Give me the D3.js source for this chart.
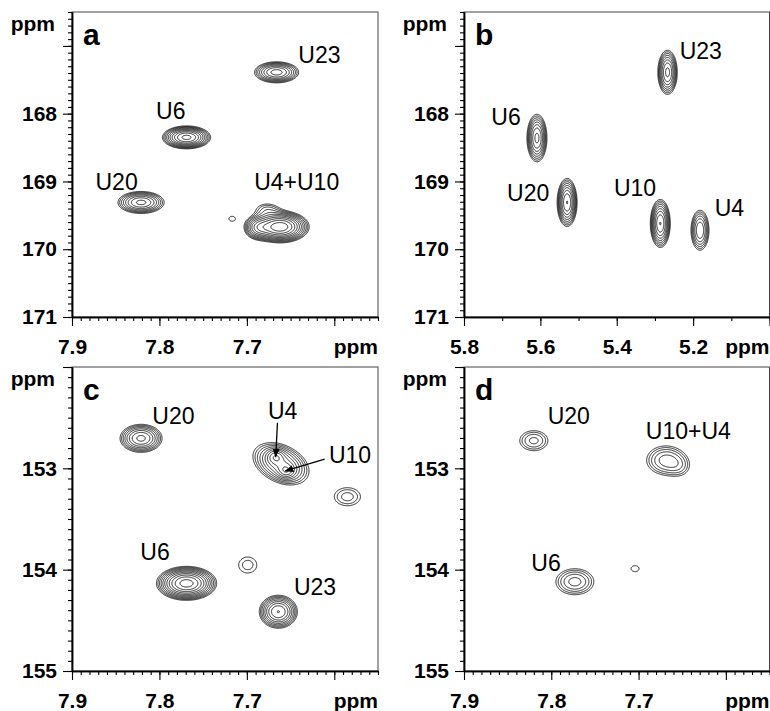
<!DOCTYPE html>
<html>
<head>
<meta charset="utf-8">
<script src="https://cdn.jsdelivr.net/npm/d3@7"></script>
<style>
  body { margin: 0; background: #fff; }
  svg { display: block; }
</style>
</head>
<body>
<div id="chart"></div>
<script>
// 2D NMR spectra (four panels) drawn as contour plots with D3

// ---- axis domains and ticks ----
const xDomainH6 = [7.9, 7.55];
const xDomainH1 = [5.8, 5.0];
const yDomainC2 = [166.5, 171];
const yDomainC4 = [152, 155];

const xTicksH6 = [7.9, 7.8, 7.7, 7.6];
const xTickLabelsH6 = ['7.9', '7.8', '7.7', ''];
const xTicksH1 = [5.8, 5.6, 5.4, 5.2, 5.0];
const xTickLabelsH1 = ['5.8', '5.6', '5.4', '5.2', ''];
const yTicksC2 = [167, 168, 169, 170, 171];
const yTickLabelsC2 = ['', '168', '169', '170', '171'];
const yTicksC4 = [152, 153, 154, 155];
const yTickLabelsC4 = ['', '153', '154', '155'];

// ---- peaks: position (ppm), widths (ppm), height in units of lowest contour, optional tilt ----
const peaksA = [
  { x: 7.666, y: 167.39, sx: 0.0138, sy: 0.085, h: 5.3 },   // U23
  { x: 7.769, y: 168.35, sx: 0.0135, sy: 0.083, h: 8 },     // U6
  { x: 7.821, y: 169.31, sx: 0.0146, sy: 0.090, h: 5.1 },   // U20
  { x: 7.662, y: 169.67, sx: 0.0152, sy: 0.108, h: 11 },    // U4+U10
  { x: 7.688, y: 169.68, sx: 0.0085, sy: 0.095, h: 3.5 },   // shoulder
  { x: 7.677, y: 169.41, sx: 0.011, sy: 0.080, h: 1.5 },    // bump
  { x: 7.717, y: 169.55, sx: 0.0065, sy: 0.064, h: 1.15 }   // small
];
const peaksB = [
  { x: 5.267, y: 167.39, sx: 0.0141, sy: 0.180, h: 5.1 },   // U23
  { x: 5.609, y: 168.36, sx: 0.0145, sy: 0.194, h: 5.1 },   // U6
  { x: 5.530, y: 169.31, sx: 0.0138, sy: 0.187, h: 6 },     // U20
  { x: 5.286, y: 169.62, sx: 0.0138, sy: 0.187, h: 6 },     // U10
  { x: 5.182, y: 169.72, sx: 0.0144, sy: 0.180, h: 3.8 }    // U4
];
const peaksC = [
  { x: 7.821, y: 152.704, sx: 0.0133, sy: 0.0766, h: 5.1 }, // U20
  { x: 7.661, y: 152.955, sx: 0.0185, sy: 0.120, h: 4.5, rho: -0.35 }, // U4/U10 envelope
  { x: 7.667, y: 152.885, sx: 0.006, sy: 0.045, h: 2.5 },   // U4
  { x: 7.655, y: 153.026, sx: 0.006, sy: 0.045, h: 2.5 },   // U10
  { x: 7.585, y: 153.28, sx: 0.0141, sy: 0.084, h: 1.75 },
  { x: 7.769, y: 154.135, sx: 0.0159, sy: 0.0775, h: 10.4 }, // U6
  { x: 7.699, y: 153.954, sx: 0.0126, sy: 0.096, h: 1.4 },
  { x: 7.664, y: 154.415, sx: 0.0115, sy: 0.086, h: 6 }     // U23
];
const peaksD = [
  { x: 7.820, y: 152.727, sx: 0.0132, sy: 0.081, h: 2.1 },  // U20
  { x: 7.669, y: 152.92, sx: 0.0154, sy: 0.100, h: 2.7 },   // U10+U4
  { x: 7.652, y: 152.99, sx: 0.010, sy: 0.080, h: 0.9 },
  { x: 7.773, y: 154.119, sx: 0.0154, sy: 0.091, h: 2.7 },  // U6
  { x: 7.704, y: 153.99, sx: 0.0105, sy: 0.067, h: 1.1 }
];

// ---- peak labels [text, x ppm, y ppm] and arrows [x1, y1, x2, y2] ----
const labelsA = [['U23', 7.617, 167.13], ['U6', 7.787, 167.96], ['U20', 7.849, 169.0], ['U4+U10', 7.643, 169.0]];
const labelsB = [['U23', 5.180, 167.07], ['U6', 5.690, 168.04], ['U20', 5.632, 169.16], ['U10', 5.352, 169.09], ['U4', 5.105, 169.39]];
const labelsC = [['U20', 7.784, 152.48], ['U4', 7.659, 152.43], ['U10', 7.582, 152.87], ['U6', 7.805, 153.82], ['U23', 7.622, 154.17]];
const labelsD = [['U20', 7.780, 152.48], ['U10+U4', 7.643, 152.63], ['U6', 7.806, 153.93]];
const arrowsC = [[7.665, 152.55, 7.667, 152.885], [7.611, 152.91, 7.656, 153.026]];

// contour levels: geometric series
const contourBase = 1;
const contourFactor = 1.25;
const contourCount = 16;
const levels = d3.range(contourCount).map(k => contourBase * Math.pow(contourFactor, k));

const fontFamily = '"Liberation Sans", Arial, Helvetica, sans-serif';
const width = 770, height = 711;

const svg = d3.select('#chart').append('svg')
  .attr('width', width)
  .attr('height', height)
  .attr('font-family', fontFamily);

svg.append('defs').append('marker')
  .attr('id', 'arrow')
  .attr('markerUnits', 'userSpaceOnUse')
  .attr('markerWidth', 9).attr('markerHeight', 7)
  .attr('refX', 8).attr('refY', 3.5)
  .attr('orient', 'auto')
  .append('path')
  .attr('d', 'M0,0 L9,3.5 L0,7 Z')
  .attr('fill', '#000');

const panels = [
  { id: 'a', left: 72, right: 378, top: 12, bottom: 317, xDomain: xDomainH6, yDomain: yDomainC2,
    xTicks: xTicksH6, xLabels: xTickLabelsH6, xMinor: 0.01, yTicks: yTicksC2, yLabels: yTickLabelsC2,
    peaks: peaksA, labels: labelsA, arrows: [] },
  { id: 'b', left: 464, right: 769.5, top: 12, bottom: 317, xDomain: xDomainH1, yDomain: yDomainC2,
    xTicks: xTicksH1, xLabels: xTickLabelsH1, xMinor: 0.1, yTicks: yTicksC2, yLabels: yTickLabelsC2,
    peaks: peaksB, labels: labelsB, arrows: [] },
  { id: 'c', left: 72, right: 378, top: 367, bottom: 671, xDomain: xDomainH6, yDomain: yDomainC4,
    xTicks: xTicksH6, xLabels: xTickLabelsH6, xMinor: 0.01, yTicks: yTicksC4, yLabels: yTickLabelsC4,
    peaks: peaksC, labels: labelsC, arrows: arrowsC },
  { id: 'd', left: 464, right: 769.5, top: 367, bottom: 671, xDomain: xDomainH6, yDomain: yDomainC4,
    xTicks: xTicksH6, xLabels: xTickLabelsH6, xMinor: 0.01, yTicks: yTicksC4, yLabels: yTickLabelsC4,
    peaks: peaksD, labels: labelsD, arrows: [] }
];

// minor tick values inside a domain
function minorTicks(domain, step) {
  const lo = Math.min(domain[0], domain[1]), hi = Math.max(domain[0], domain[1]);
  return d3.range(Math.ceil(lo / step - 1e-6), Math.floor(hi / step + 1e-6) + 1).map(k => +(k * step).toFixed(4));
}

// sum of (possibly tilted) gaussian peaks at a point (ppm)
function intensity(peaks, px, py) {
  let s = 0;
  for (const p of peaks) {
    const u = (px - p.x) / p.sx, v = (py - p.y) / p.sy;
    const r = p.rho || 0;
    s += p.h * Math.exp(-0.5 * (u * u - 2 * r * u * v + v * v) / (1 - r * r));
  }
  return s;
}

function drawPanel(p) {
  const x = d3.scaleLinear().domain(p.xDomain).range([p.left, p.right]);
  const y = d3.scaleLinear().domain(p.yDomain).range([p.top, p.bottom]);
  const g = svg.append('g');

  // frame
  g.append('rect')
    .attr('x', p.left).attr('y', p.top)
    .attr('width', p.right - p.left).attr('height', p.bottom - p.top)
    .attr('fill', 'none').attr('stroke', '#444').attr('stroke-width', 1);

  // contour grid
  const step = 0.5;
  const nx = Math.ceil((p.right - p.left) / step);
  const ny = Math.ceil((p.bottom - p.top) / step);
  const values = new Float64Array(nx * ny);
  for (let j = 0; j < ny; j++) {
    const py = y.invert(p.top + (j + 0.5) * step);
    for (let i = 0; i < nx; i++) {
      const px = x.invert(p.left + (i + 0.5) * step);
      values[j * nx + i] = intensity(p.peaks, px, py);
    }
  }
  const contours = d3.contours().size([nx, ny]).thresholds(levels)(values);
  const path = d3.geoPath(d3.geoIdentity().scale(step).translate([p.left, p.top]));

  g.append('clipPath').attr('id', 'clip-' + p.id)
    .append('rect')
    .attr('x', p.left).attr('y', p.top)
    .attr('width', p.right - p.left).attr('height', p.bottom - p.top);

  g.append('g')
    .attr('clip-path', `url(#clip-${p.id})`)
    .selectAll('path')
    .data(contours.filter(c => c.coordinates.length))
    .join('path')
    .attr('d', path)
    .attr('fill', 'none')
    .attr('stroke', '#000')
    .attr('stroke-width', 0.85)
    .attr('stroke-linejoin', 'round');

  // axes: minor ticks, then major ticks with labels
  const xMinorAxis = d3.axisBottom(x).tickValues(minorTicks(p.xDomain, p.xMinor)).tickSize(4).tickFormat('').tickSizeOuter(0);
  const xMajorAxis = d3.axisBottom(x).tickValues(p.xTicks).tickSize(9).tickPadding(13).tickSizeOuter(0)
    .tickFormat((d, i) => p.xLabels[i]);
  const yMinorAxis = d3.axisLeft(y).tickValues(minorTicks(p.yDomain, 0.1)).tickSize(4).tickFormat('').tickSizeOuter(0);
  const yMajorAxis = d3.axisLeft(y).tickValues(p.yTicks).tickSize(9).tickPadding(6).tickSizeOuter(0)
    .tickFormat((d, i) => p.yLabels[i]);

  [[xMinorAxis, 'x'], [xMajorAxis, 'x'], [yMinorAxis, 'y'], [yMajorAxis, 'y']].forEach(([axis, dir]) => {
    const ag = g.append('g')
      .attr('transform', dir === 'x' ? `translate(0,${p.bottom})` : `translate(${p.left},0)`)
      .call(axis);
    ag.attr('font-family', fontFamily).attr('font-size', 21).attr('font-weight', 'bold');
    ag.select('.domain').attr('stroke', '#000').attr('stroke-width', 1.5);
    ag.selectAll('.tick line').attr('stroke', '#000').attr('stroke-width', 1.1);
    ag.selectAll('.tick text').attr('fill', '#000');
  });

  // axis unit labels
  g.append('text')
    .attr('x', p.left - 17).attr('y', p.top + 19)
    .attr('text-anchor', 'end')
    .attr('font-size', 21).attr('font-weight', 'bold')
    .text('ppm');
  g.append('text')
    .attr('x', p.right).attr('y', p.bottom + 37)
    .attr('text-anchor', 'end')
    .attr('font-size', 21).attr('font-weight', 'bold')
    .text('ppm');

  // panel letter
  g.append('text')
    .attr('x', p.left + 11).attr('y', p.top + 33)
    .attr('font-size', 30).attr('font-weight', 'bold')
    .text(p.id);

  // peak labels
  g.append('g').selectAll('text')
    .data(p.labels)
    .join('text')
    .attr('x', d => x(d[1]))
    .attr('y', d => y(d[2]))
    .attr('dy', '0.36em')
    .attr('text-anchor', 'middle')
    .attr('font-size', 23)
    .text(d => d[0]);

  // arrows
  g.append('g').selectAll('line')
    .data(p.arrows)
    .join('line')
    .attr('x1', d => x(d[0])).attr('y1', d => y(d[1]))
    .attr('x2', d => x(d[2])).attr('y2', d => y(d[3]))
    .attr('stroke', '#000')
    .attr('stroke-width', 1.3)
    .attr('marker-end', 'url(#arrow)');
}

panels.forEach(drawPanel);
</script>
</body>
</html>
